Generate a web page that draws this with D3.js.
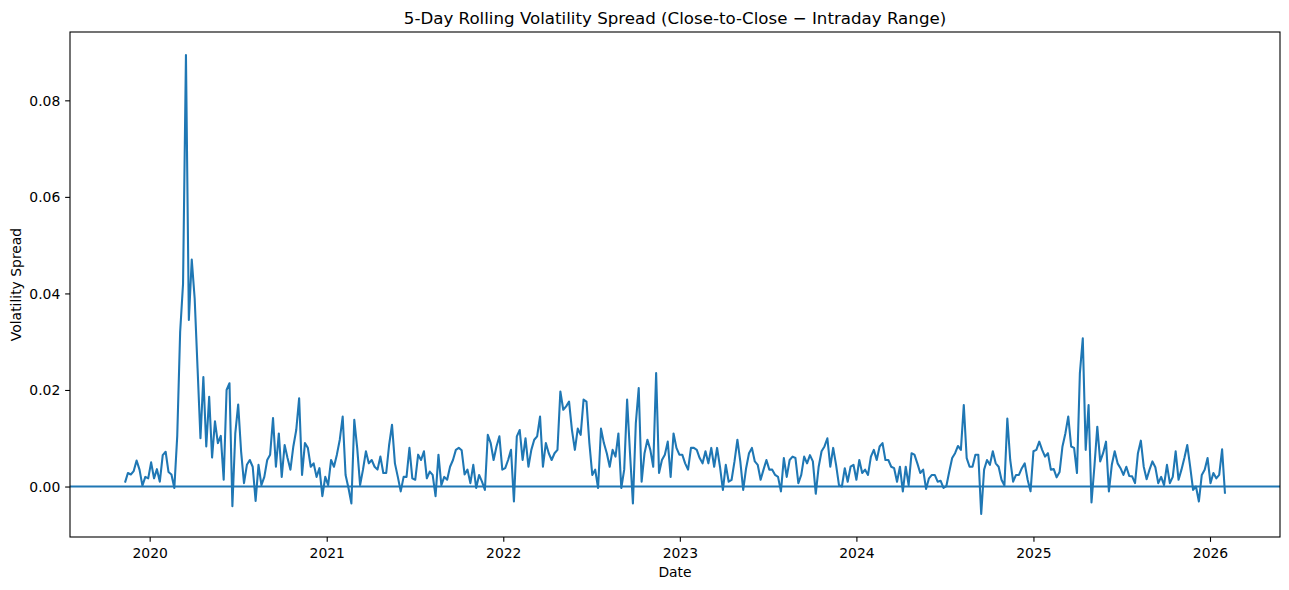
<!DOCTYPE html>
<html><head><meta charset="utf-8">
<script src="https://cdn.jsdelivr.net/npm/d3@7"></script>
<style>
body{margin:0;background:#fff}
svg{display:block}
text{font-family:"DejaVu Sans",sans-serif;fill:#000}
</style>
</head><body>
<svg id="c" width="1289" height="590"></svg>
<script>
// ---- data ----
const startDate = "2019-11-11";   // first observation
const stepDays = 6;               // spacing between sampled observations
const spread = [
 0.0008, 0.0028, 0.0025, 0.0032, 0.0054, 0.0035, 0.0002, 0.0020, 0.0017, 0.0050,
 0.0017, 0.0036, 0.0010, 0.0065, 0.0072, 0.0030, 0.0025, -0.0003, 0.0105, 0.0320,
 0.0420, 0.0894, 0.0345, 0.0470, 0.0390, 0.0245, 0.0100, 0.0227, 0.0083, 0.0186,
 0.0060, 0.0135, 0.0090, 0.0105, 0.0014, 0.0200, 0.0214, -0.0041, 0.0110, 0.0170,
 0.0073, 0.0007, 0.0045, 0.0055, 0.0041, -0.0030, 0.0045, 0.0003, 0.0020, 0.0055,
 0.0066, 0.0142, 0.0041, 0.0110, 0.0020, 0.0086, 0.0059, 0.0035, 0.0083, 0.0117,
 0.0183, 0.0024, 0.0090, 0.0080, 0.0041, 0.0048, 0.0020, 0.0038, -0.0020, 0.0020,
 0.0003, 0.0055, 0.0041, 0.0066, 0.0097, 0.0145, 0.0024, -0.0003, -0.0035, 0.0138,
 0.0080, 0.0003, 0.0035, 0.0073, 0.0048, 0.0055, 0.0041, 0.0035, 0.0062, 0.0028,
 0.0028, 0.0086, 0.0128, 0.0048, 0.0020, -0.0010, 0.0020, 0.0020, 0.0080, 0.0017,
 0.0014, 0.0066, 0.0055, 0.0073, 0.0017, 0.0031, 0.0024, -0.0020, 0.0066, 0.0003,
 0.0020, 0.0014, 0.0041, 0.0055, 0.0076, 0.0080, 0.0075, 0.0025, 0.0035, 0.0007,
 0.0045, -0.0003, 0.0024, 0.0010, -0.0007, 0.0107, 0.0090, 0.0055, 0.0083, 0.0104,
 0.0035, 0.0038, 0.0055, 0.0076, -0.0031, 0.0104, 0.0117, 0.0055, 0.0100, 0.0041,
 0.0076, 0.0097, 0.0104, 0.0145, 0.0041, 0.0090, 0.0069, 0.0055, 0.0069, 0.0076,
 0.0197, 0.0159, 0.0166, 0.0176, 0.0117, 0.0076, 0.0120, 0.0107, 0.0180, 0.0176,
 0.0090, 0.0024, 0.0035, -0.0003, 0.0120, 0.0090, 0.0069, 0.0041, 0.0076, 0.0062,
 0.0110, -0.0003, 0.0035, 0.0180, 0.0069, -0.0035, 0.0131, 0.0204, 0.0010, 0.0069,
 0.0097, 0.0076, 0.0041, 0.0235, 0.0028, 0.0055, 0.0066, 0.0093, 0.0020, 0.0110,
 0.0080, 0.0066, 0.0066, 0.0048, 0.0035, 0.0080, 0.0080, 0.0076, 0.0059, 0.0048,
 0.0073, 0.0048, 0.0080, 0.0041, 0.0080, 0.0041, -0.0007, 0.0045, 0.0010, 0.0014,
 0.0052, 0.0097, 0.0052, -0.0007, 0.0038, 0.0069, 0.0080, 0.0052, 0.0045, 0.0014,
 0.0035, 0.0055, 0.0035, 0.0035, 0.0024, 0.0020, -0.0010, 0.0059, 0.0020, 0.0055,
 0.0062, 0.0059, 0.0007, 0.0024, 0.0062, 0.0048, 0.0065, 0.0052, -0.0015, 0.0041,
 0.0073, 0.0083, 0.0100, 0.0041, 0.0080, 0.0045, 0.0003, 0.0000, 0.0038, 0.0010,
 0.0041, 0.0045, 0.0014, 0.0055, 0.0028, 0.0035, 0.0024, 0.0062, 0.0076, 0.0055,
 0.0083, 0.0090, 0.0055, 0.0055, 0.0041, 0.0038, 0.0010, 0.0041, -0.0010, 0.0041,
 0.0003, 0.0069, 0.0066, 0.0048, 0.0028, 0.0035, -0.0005, 0.0017, 0.0024, 0.0024,
 0.0010, 0.0012, -0.0003, 0.0001, 0.0031, 0.0059, 0.0069, 0.0084, 0.0076, 0.0169,
 0.0059, 0.0041, 0.0041, 0.0066, 0.0066, -0.0057, 0.0035, 0.0055, 0.0045, 0.0073,
 0.0048, 0.0041, 0.0014, 0.0002, 0.0141, 0.0055, 0.0010, 0.0024, 0.0024, 0.0038,
 0.0048, 0.0014, -0.0010, 0.0073, 0.0076, 0.0093, 0.0076, 0.0062, 0.0069, 0.0035,
 0.0036, 0.0019, 0.0030, 0.0083, 0.0110, 0.0145, 0.0083, 0.0080, 0.0028, 0.0235,
 0.0307, 0.0076, 0.0169, -0.0033, 0.0041, 0.0124, 0.0052, 0.0069, 0.0093, -0.0010,
 0.0045, 0.0073, 0.0048, 0.0038, 0.0024, 0.0041, 0.0022, 0.0021, 0.0007, 0.0069,
 0.0095, 0.0041, 0.0015, 0.0035, 0.0052, 0.0040, 0.0007, 0.0020, 0.0003, 0.0045,
 0.0007, 0.0020, 0.0073, 0.0014, 0.0035, 0.0059, 0.0086, 0.0041, -0.0007, 0.0000,
 -0.0031, 0.0024, 0.0035, 0.0059, 0.0007, 0.0028, 0.0017, 0.0024, 0.0077, -0.0015
];
const xTickYears = [2020, 2021, 2022, 2023, 2024, 2025, 2026];
const yTickValues = [0.00, 0.02, 0.04, 0.06, 0.08];
const titleText = "5-Day Rolling Volatility Spread (Close-to-Close \u2212 Intraday Range)";
const xLabel = "Date";
const yLabel = "Volatility Spread";
const refLevel = 0;

// ---- layout ----
const W = 1289, H = 590;
const L = 70, R = 1280, T = 32, B = 537;
const color = "#1f77b4";
const tickLen = 4.86, tickPad = 4.86;

const t0 = d3.utcParse("%Y-%m-%d")(startDate);
const dates = spread.map((_, i) => d3.utcDay.offset(t0, i * stepDays));
const points = spread.map((v, i) => ({date: dates[i], v}));

// matplotlib-style 5% margins
const xe = d3.extent(dates, d => +d);
const xpad = (xe[1] - xe[0]) * 0.05;
const ye = d3.extent(spread);
const ypad = (ye[1] - ye[0]) * 0.05;

const x = d3.scaleUtc().domain([new Date(xe[0] - xpad), new Date(xe[1] + xpad)]).range([L, R]);
const y = d3.scaleLinear().domain([ye[0] - ypad, ye[1] + ypad]).range([B, T]);

const svg = d3.select("#c");
svg.append("rect").attr("width", W).attr("height", H).attr("fill", "#fff");

const clip = svg.append("clipPath").attr("id", "clip").append("rect")
  .attr("x", L).attr("y", T).attr("width", R - L).attr("height", B - T);

const g = svg.append("g").attr("clip-path", "url(#clip)");

g.append("path")
  .datum(points)
  .attr("fill", "none")
  .attr("stroke", color)
  .attr("stroke-width", 2.08)
  .attr("stroke-linejoin", "round")
  .attr("d", d3.line().x(d => x(d.date)).y(d => y(d.v)));

g.append("line")
  .attr("x1", L).attr("x2", R)
  .attr("y1", y(refLevel)).attr("y2", y(refLevel))
  .attr("stroke", color).attr("stroke-width", 2.08);

// axes
const xAxis = d3.axisBottom(x)
  .tickValues(xTickYears.map(yr => new Date(Date.UTC(yr, 0, 1))))
  .tickFormat(d3.utcFormat("%Y"))
  .tickSizeInner(tickLen).tickSizeOuter(0).tickPadding(tickPad);
const yAxis = d3.axisLeft(y)
  .tickValues(yTickValues)
  .tickFormat(d3.format(".2f"))
  .tickSizeInner(tickLen).tickSizeOuter(0).tickPadding(tickPad);

const gx = svg.append("g").attr("transform", `translate(0,${B})`).call(xAxis);
const gy = svg.append("g").attr("transform", `translate(${L},0)`).call(yAxis);
[gx, gy].forEach(a => {
  a.select(".domain").remove();
  a.selectAll(".tick line").attr("stroke", "#000").attr("stroke-width", 1.1);
  a.selectAll(".tick text").attr("font-family", "DejaVu Sans").attr("font-size", 13.9).attr("fill", "#000");
});
gx.selectAll(".tick text").attr("dy", "0.78em");
gy.selectAll(".tick text").attr("dy", "0.36em");

// frame
svg.append("rect")
  .attr("x", L).attr("y", T).attr("width", R - L).attr("height", B - T)
  .attr("fill", "none").attr("stroke", "#000").attr("stroke-width", 1.1);

// labels
svg.append("text").attr("x", (L + R) / 2).attr("y", 23.5)
  .attr("text-anchor", "middle").attr("font-size", 16.67).text(titleText);
svg.append("text").attr("x", (L + R) / 2).attr("y", 577)
  .attr("text-anchor", "middle").attr("font-size", 13.9).text(xLabel);
svg.append("text").attr("transform", `translate(20.5,${(T + B) / 2}) rotate(-90)`)
  .attr("text-anchor", "middle").attr("font-size", 13.9).text(yLabel);
</script>
</body></html>
